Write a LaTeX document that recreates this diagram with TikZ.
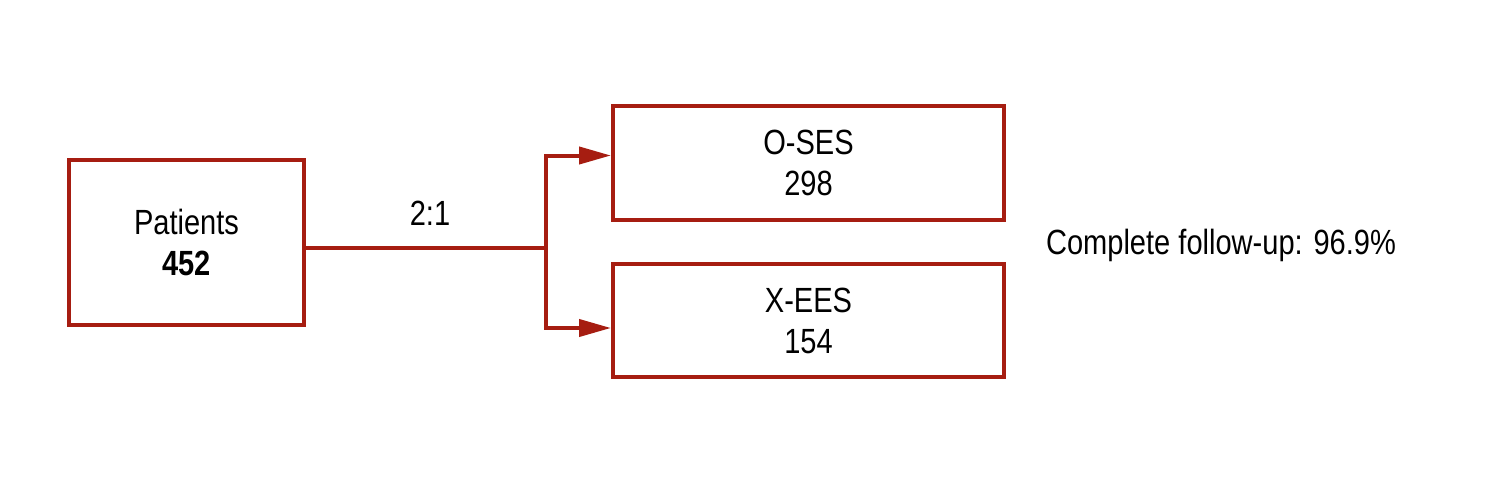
\documentclass[tikz,border=0pt]{standalone}
\usepackage{fontspec}
\setmainfont{Liberation Sans}[FakeStretch=0.83]
\usepackage{tikz}
\usetikzlibrary{arrows.meta,positioning}
\definecolor{armred}{RGB}{166,29,17}
\tikzset{
  armbox/.style={ draw=armred, line width=2pt, align=center, font=\fontsize{17.5}{20.5}\selectfont }
}
\tikzset{
  armline/.style={ draw=armred, line width=2pt }
}
\tikzset{
  armarrow/.style={ armline, -{Triangle[length=16pt,width=8.5pt]} }
}

\begin{document}
\begin{tikzpicture}[x=0.5pt,y=-0.5pt]
      \useasboundingbox (0,0) rectangle (1512,482);
      \node[armbox, minimum width=117.5pt, minimum height=82.5pt] (pat) at (186.5, 242.5) {Patients\\\textbf{452}};
      \node[armbox, minimum width=195.5pt, minimum height=57pt] (ses) at (808.5, 163) {O-SES\\298};
      \node[armbox, minimum width=195.5pt, minimum height=56.5pt] (ees) at (808.5, 320.5) {X-EES\\154};
      \coordinate (split) at (546, 248);
      \node[font=\fontsize{17.5}{20.5}\selectfont] (ratio) at (430, 213) {2:1};
      \node[font=\fontsize{17.5}{20.5}\selectfont, anchor=west] (fup) at (1039, 245) {Complete follow-up: 96.9\%};

      \draw[armline] ([yshift=-2.75pt]pat.east) -- (split);
      \draw[armarrow] (split) |- ([yshift=3.75pt]ses.west);
      \draw[armarrow] (split) |- ([yshift=-3.75pt]ees.west);
    \end{tikzpicture}
\end{document}
